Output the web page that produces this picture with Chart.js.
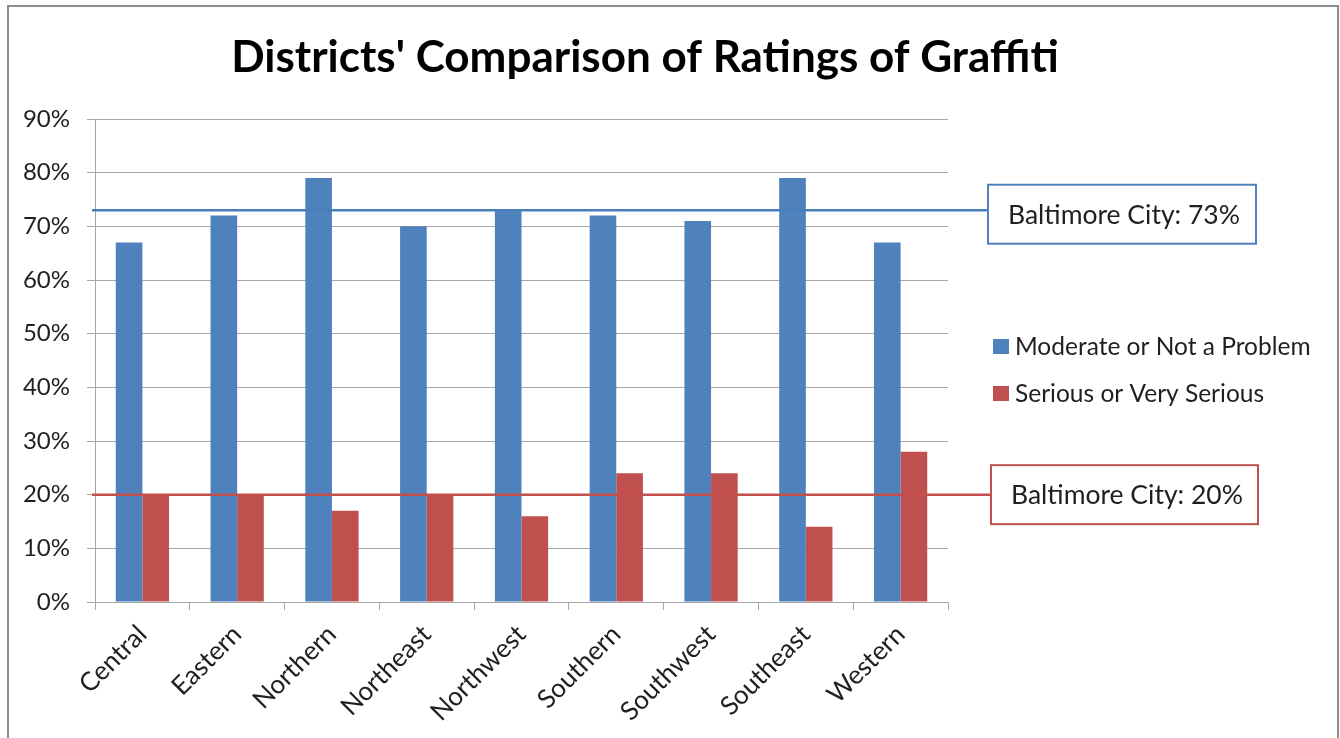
<!DOCTYPE html>
<html>
<head>
<meta charset="utf-8">
<script src="https://cdn.jsdelivr.net/npm/chart.js@4.4.1/dist/chart.umd.min.js"></script>
<style>
  html, body { margin: 0; padding: 0; background: #ffffff; }
  #wrap { width: 1340px; height: 738px; position: relative; }
</style>
</head>
<body>
<div id="wrap"><canvas id="c" width="1340" height="738"></canvas></div>
<script>
const chartTitle = "Districts' Comparison of Ratings of Graffiti";
const categories = ['Central', 'Eastern', 'Northern', 'Northeast', 'Northwest', 'Southern', 'Southwest', 'Southeast', 'Western'];
const seriesNames = ['Moderate or Not a Problem', 'Serious or Very Serious'];
const moderateValues = [67, 72, 79, 70, 73, 72, 71, 79, 67];
const seriousValues = [20, 20, 17, 20, 16, 24, 24, 14, 28];
const cityLabel = 'Baltimore City';
const cityValues = [73, 20];
const yTickValues = [0, 10, 20, 30, 40, 50, 60, 70, 80, 90];

const FONT = 'Lato, "Open Sans", "DejaVu Sans", sans-serif';
const BLUE = '#4F81BD';
const RED = '#C0504D';
const LINE_BLUE = '#4A7EBB';
const LINE_RED = '#C4504D';
const TEXT = '#1f1f1f';
const GRID = '#a6a6a6';

const decorPlugin = {
  id: 'decor',
  afterDatasetsDraw(chart) {
    const ctx = chart.ctx;
    const y = chart.scales.y;
    const lineColors = [LINE_BLUE, LINE_RED];
    const lineEnds = [988, 991];
    ctx.save();
    cityValues.forEach((v, i) => {
      const py = y.getPixelForValue(v);
      ctx.strokeStyle = lineColors[i];
      ctx.lineWidth = 2.5;
      ctx.beginPath();
      ctx.moveTo(chart.chartArea.left - 3, py);
      ctx.lineTo(lineEnds[i], py);
      ctx.stroke();
    });
    ctx.restore();
  },
  afterDraw(chart) {
    const ctx = chart.ctx;
    const y = chart.scales.y;
    ctx.save();
    // outer border
    ctx.strokeStyle = '#8c8c8c';
    ctx.lineWidth = 2;
    ctx.beginPath();
    ctx.moveTo(8, 760);
    ctx.lineTo(8, 6);
    ctx.lineTo(1338, 6);
    ctx.lineTo(1338, 760);
    ctx.stroke();

    // title
    ctx.fillStyle = '#000000';
    ctx.font = 'bold 44px ' + FONT;
    ctx.textAlign = 'center';
    ctx.textBaseline = 'middle';
    ctx.fillText(chartTitle, 645, 58);

    // value boxes
    const boxColors = [BLUE, RED];
    const boxes = [
      { x: 988, w: 268, h: 59, dy: 4, tx: 20 },
      { x: 991, w: 267, h: 59, dy: 0, tx: 20 }
    ];
    cityValues.forEach((v, i) => {
      const b = boxes[i];
      const cy = y.getPixelForValue(v) + b.dy;
      const top = cy - b.h / 2;
      ctx.fillStyle = '#ffffff';
      ctx.fillRect(b.x, top, b.w, b.h);
      ctx.strokeStyle = boxColors[i];
      ctx.lineWidth = 2;
      ctx.strokeRect(b.x, top, b.w, b.h);
      ctx.fillStyle = TEXT;
      ctx.font = '26.5px ' + FONT;
      ctx.textAlign = 'left';
      ctx.textBaseline = 'middle';
      ctx.fillText(cityLabel + ': ' + v + '%', b.x + b.tx, cy + 1);
    });

    // legend
    const legendY = [346, 393];
    chart.data.datasets.forEach((ds, i) => {
      ctx.fillStyle = ds.backgroundColor;
      ctx.fillRect(993, legendY[i] - 7, 16, 15);
      ctx.fillStyle = TEXT;
      ctx.font = '24.5px ' + FONT;
      ctx.textAlign = 'left';
      ctx.textBaseline = 'middle';
      ctx.fillText(ds.label, 1015, legendY[i] + 1);
    });
    ctx.restore();
  }
};

new Chart(document.getElementById('c'), {
  type: 'bar',
  data: {
    labels: categories,
    datasets: [
      { label: seriesNames[0], data: moderateValues, backgroundColor: BLUE, borderWidth: 0 },
      { label: seriesNames[1], data: seriousValues, backgroundColor: RED, borderWidth: 0 }
    ]
  },
  options: {
    responsive: false,
    animation: false,
    devicePixelRatio: 1,
    layout: { padding: { left: 8, right: 392, top: 119, bottom: 0 } },
    datasets: { bar: { categoryPercentage: 0.562, barPercentage: 1.0 } },
    plugins: {
      legend: { display: false },
      title: { display: false },
      tooltip: { enabled: false }
    },
    scales: {
      x: {
        grid: { display: true, drawOnChartArea: false, drawTicks: true, tickLength: 8, color: GRID, offset: true },
        border: { display: true, color: GRID, width: 1 },
        ticks: {
          color: TEXT,
          font: { family: FONT, size: 26 },
          maxRotation: 45,
          minRotation: 45,
          padding: 9,
          autoSkip: false
        },
        afterFit(scale) { scale.height = 136; }
      },
      y: {
        min: 0,
        max: 90,
        afterBuildTicks(scale) { scale.ticks = yTickValues.map(v => ({ value: v })); },
        grid: { color: GRID, tickLength: 8, drawTicks: true },
        border: { display: true, color: GRID, width: 1 },
        ticks: {
          color: TEXT,
          font: { family: FONT, size: 24 },
          padding: 17,
          callback: (v) => v + '%'
        },
        afterFit(scale) { scale.width = 87; }
      }
    }
  },
  plugins: [decorPlugin]
});
</script>
</body>
</html>
